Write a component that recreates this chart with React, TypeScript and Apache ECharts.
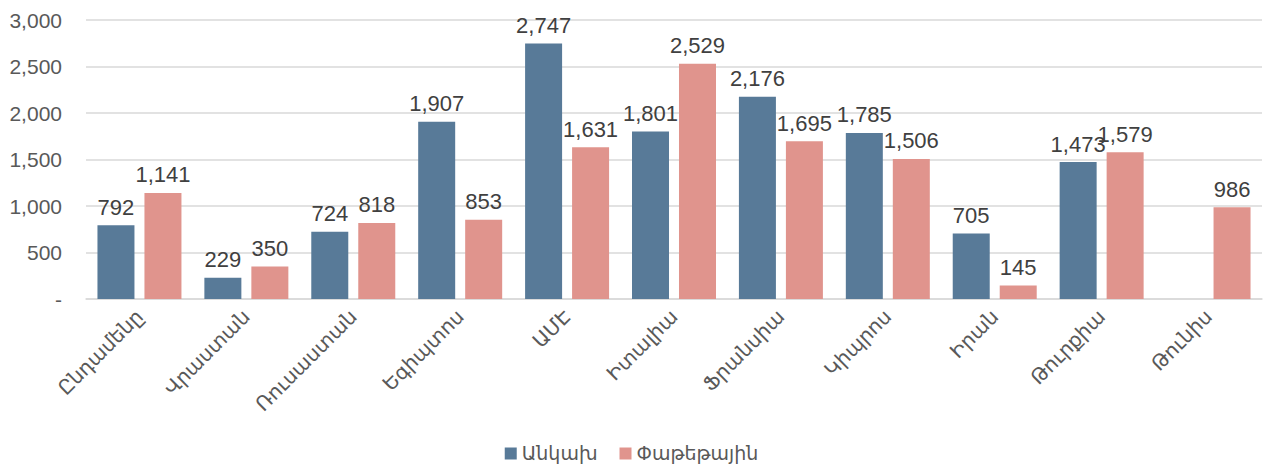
import React, { useEffect, useRef } from "react";
import * as echarts from "echarts";

const categories = [
  "Ընդամենը",
  "Վրաստան",
  "Ռուսաստան",
  "Եգիպտոս",
  "ԱՄԷ",
  "Իտալիա",
  "Ֆրանսիա",
  "Կիպրոս",
  "Իրան",
  "Թուրքիա",
  "Թունիս",
];
const seriesNames = ["Անկախ", "Փաթեթային"];
const independent = [792, 229, 724, 1907, 2747, 1801, 2176, 1785, 705, 1473, null];
const packaged = [1141, 350, 818, 853, 1631, 2529, 1695, 1506, 145, 1579, 986];
const yTicks = { min: 0, max: 3000, interval: 500 };

const FONT = "Arial, 'Liberation Sans', 'DejaVu Sans', sans-serif";
const fmt = (v: number) => (v === 0 ? "-" : v.toLocaleString("en-US"));

export default function App() {
  const ref = useRef<HTMLDivElement>(null);
  useEffect(() => {
    document.body.style.margin = "0";
    const chart = echarts.init(ref.current!, null, { renderer: "svg" });
    const label = {
      show: true,
      position: "top" as const,
      distance: 7,
      color: "#404040",
      fontSize: 22,
      fontFamily: FONT,
      formatter: (p: any) => fmt(p.value),
    };
    chart.setOption({
      animation: false,
      textStyle: { fontFamily: FONT },
      grid: { left: 86, right: 1, top: 20, bottom: 169, containLabel: false },
      legend: {
        bottom: 0,
        left: "center",
        itemWidth: 12,
        itemHeight: 12,
        itemGap: 22,
        icon: "rect",
        textStyle: { color: "#595959", fontSize: 19, fontFamily: FONT },
        data: seriesNames,
      },
      xAxis: {
        type: "category",
        data: categories,
        axisLine: { lineStyle: { color: "#d9d9d9", width: 1.5 } },
        axisTick: { show: false },
        axisLabel: {
          rotate: 45,
          color: "#595959",
          fontSize: 20,
          fontFamily: FONT,
          margin: 14,
          interval: 0,
        },
      },
      yAxis: {
        type: "value",
        min: yTicks.min,
        max: yTicks.max,
        interval: yTicks.interval,
        axisLine: { show: false },
        axisTick: { show: false },
        splitLine: { lineStyle: { color: "#d9d9d9", width: 1.5 } },
        axisLabel: {
          color: "#595959",
          fontSize: 21,
          fontFamily: FONT,
          margin: 24,
          formatter: fmt,
        },
      },
      series: [
        {
          name: seriesNames[0],
          type: "bar",
          data: independent,
          barWidth: 37,
          barGap: "27%",
          itemStyle: { color: "#587A98" },
          label,
        },
        {
          name: seriesNames[1],
          type: "bar",
          data: packaged,
          barWidth: 37,
          barGap: "27%",
          itemStyle: { color: "#E0948D" },
          label,
        },
      ],
    });
    return () => chart.dispose();
  }, []);
  return (
    <div
      ref={ref}
      style={{ position: "absolute", left: 0, top: 0, width: 1263, height: 468 }}
    />
  );
}
